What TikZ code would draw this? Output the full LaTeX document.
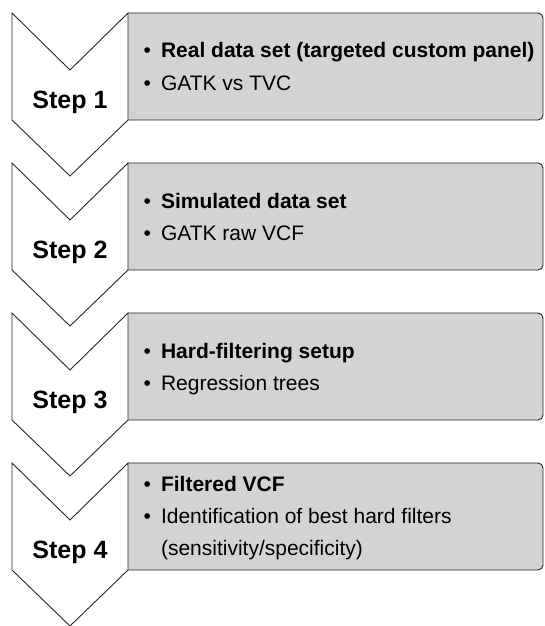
\documentclass[tikz,border=0pt]{standalone}
\usepackage{fontspec}
\setmainfont{Liberation Sans}
\definecolor{boxgray}{RGB}{211,211,211}
\definecolor{edgecol}{RGB}{40,40,40}
\tikzset{
  boxshape/.style={fill=boxgray, draw=edgecol, line width=0.9pt, rounded corners=5pt},
  chev/.style={fill=white, draw=edgecol, line width=0.9pt, line join=miter},
  steplabel/.style={font=\fontsize{25}{30}\selectfont\bfseries, anchor=base, inner sep=0pt},
  itemtext/.style={font=\fontsize{21}{32}\selectfont, anchor=base west, inner sep=0pt},
}
\newcommand{\bul}{\textbullet\hspace{10pt}}
\begin{document}
\begin{tikzpicture}[x=1pt,y=-1pt]
\useasboundingbox (0,0) rectangle (544,626);
\foreach \o in {0,150,300,450} {
  \begin{scope}
    \clip (128,\o) rectangle (560,\o+140);
    \draw[boxshape] (110,13+\o) rectangle (543,120+\o);
  \end{scope}
  \draw[chev] (12,13+\o) -- (70,70+\o) -- (128,13+\o) -- (128,120+\o) -- (70,176+\o) -- (12,120+\o) -- cycle;
}
% step labels
\node[steplabel] (s1) at (70,108) {Step 1};
\node[steplabel] (s2) at (70,258) {Step 2};
\node[steplabel] (s3) at (70,408) {Step 3};
\node[steplabel] (s4) at (70,558) {Step 4};
% box texts
\node[itemtext] (t1a) at (143.5,58) {\bul\textbf{Real data set (targeted custom panel)}};
\node[itemtext] (t1b) at (143.5,90) {\bul GATK vs TVC};
\node[itemtext] (t2a) at (143.5,208) {\bul\textbf{Simulated data set}};
\node[itemtext] (t2b) at (143.5,240) {\bul GATK raw VCF};
\node[itemtext] (t3a) at (143.5,358) {\bul\textbf{Hard-filtering setup}};
\node[itemtext] (t3b) at (143.5,390) {\bul Regression trees};
\node[itemtext] (t4a) at (143.5,491) {\bul\textbf{Filtered VCF}};
\node[itemtext] (t4b) at (143.5,523) {\bul Identification of best hard filters};
\node[itemtext] (t4c) at (160.85,555) {(sensitivity/specificity)};
\end{tikzpicture}
\end{document}
